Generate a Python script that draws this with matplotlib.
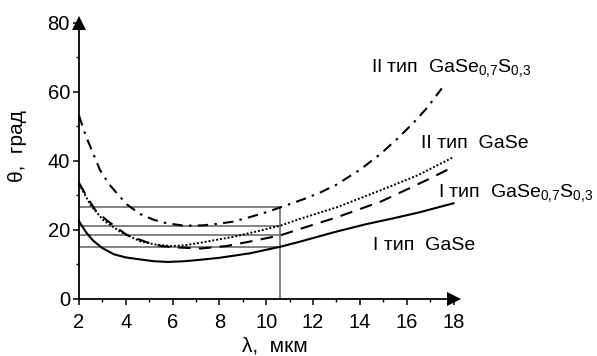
import matplotlib
matplotlib.use("Agg")
import matplotlib.pyplot as plt
from matplotlib.ticker import MultipleLocator

plt.rcParams['font.family'] = ['Liberation Sans', 'DejaVu Sans']
plt.rcParams['mathtext.fontset'] = 'custom'
plt.rcParams['mathtext.rm'] = 'Liberation Sans'
plt.rcParams['mathtext.it'] = 'Liberation Sans'
plt.rcParams['mathtext.bf'] = 'Liberation Sans:bold'

# I тип GaSe (solid)
x_I_GaSe = [2.0, 2.3, 2.6, 3.0, 3.5, 4.0, 4.75, 5.2, 5.8, 6.5, 7.3, 8.0, 9.3, 10.6, 11.4, 13.0, 14.3, 15.4, 16.5, 18.0]
y_I_GaSe = [22.4, 19.2, 16.8, 14.6, 12.8, 11.9, 11.2, 10.8, 10.6, 10.8, 11.3, 11.8, 13.1, 15.0, 16.4, 19.4, 21.6, 23.2, 24.9, 27.6]

# I тип GaSe0.7S0.3 (dashed)
x_I_GaSeS = [2.0, 2.4, 2.7, 3.18, 4.04, 4.9, 5.5, 6.17, 7.2, 8.3, 9.3, 10.6, 11.6, 13.0, 14.9, 16.1, 17.0, 18.0]
y_I_GaSeS = [33.5, 28.8, 25.6, 22.7, 18.4, 16.3, 15.2, 14.8, 14.5, 15.2, 16.5, 18.3, 20.5, 23.5, 28.1, 31.9, 34.8, 38.2]

# II тип GaSe (dotted)
x_II_GaSe = [2.0, 2.5, 3.04, 3.75, 4.6, 5.3, 5.9, 6.5, 7.3, 8.6, 9.5, 10.6, 11.4, 13.0, 14.9, 16.5, 18.0]
y_II_GaSe = [33.2, 27.0, 22.7, 19.4, 16.6, 15.6, 15.2, 15.4, 16.3, 17.9, 19.3, 21.1, 23.0, 26.4, 31.4, 35.8, 41.0]

# II тип GaSe0.7S0.3 (dash-dot)
x_II_GaSeS = [2.0, 2.3, 2.6, 2.9, 3.3, 3.75, 4.04, 4.6, 5.2, 5.75, 6.5, 7.3, 8.0, 8.6, 9.3, 10.0, 10.6,
              11.6, 12.3, 13.0, 14.0, 14.9, 15.6, 16.3, 16.9, 17.5]
y_II_GaSeS = [53.0, 47.0, 42.1, 37.2, 33.0, 29.5, 27.3, 24.5, 22.8, 21.8, 21.1, 21.2, 21.7, 22.3, 23.6, 25.0, 26.4,
              28.8, 30.7, 33.0, 37.3, 42.0, 46.3, 51.0, 55.5, 60.9]

# guide lines at lambda = 10.6 um
lam_guide = 10.6
theta_guides = [26.4, 21.1, 18.3, 15.0]

x_ticks = [2, 4, 6, 8, 10, 12, 14, 16, 18]
y_ticks = [0, 20, 40, 60, 80]

fig = plt.figure(figsize=(5.97, 3.56), dpi=100)
ax = fig.add_axes([79/597, 1 - 298.5/356, (453.5 - 79)/597, (298.5 - 22.5)/356])

ax.set_xlim(2, 18)
ax.set_ylim(0, 80)

gcol = '#606060'
for t in theta_guides:
    ax.plot([2, lam_guide], [t, t], color=gcol, lw=1.1, zorder=1)
ax.plot([lam_guide, lam_guide], [0, max(theta_guides)], color=gcol, lw=1.1, zorder=1)

ax.plot(x_I_GaSe, y_I_GaSe, color='k', lw=1.5, ls='-', clip_on=False)
ax.plot(x_I_GaSeS, y_I_GaSeS, color='k', lw=1.5, ls=(0, (6, 4)), clip_on=False)
ax.plot(x_II_GaSe, y_II_GaSe, color='k', lw=1.4, ls=(0, (1, 1)), clip_on=False)
ax.plot(x_II_GaSeS, y_II_GaSeS, color='k', lw=1.5, ls=(0, (5, 3, 1.2, 3)), clip_on=False)

for s in ['top', 'right']:
    ax.spines[s].set_visible(False)
for s in ['left', 'bottom']:
    ax.spines[s].set_linewidth(1.3)

ax.set_xticks(x_ticks)
ax.set_yticks(y_ticks)
ax.xaxis.set_minor_locator(MultipleLocator(1))
ax.yaxis.set_minor_locator(MultipleLocator(10))
ax.tick_params(axis='both', which='major', direction='out', length=4.5, width=1.1, labelsize=14.5)
ax.tick_params(axis='both', which='minor', direction='out', length=2.5, width=1.0)
ax.tick_params(axis='x', which='major', pad=6)
ax.tick_params(axis='y', which='major', pad=2)

# axis arrows
ax.plot(1, 0, marker='>', color='k', markersize=10, transform=ax.transAxes, clip_on=False,
        markeredgewidth=0)
ax.plot(0, 1, marker='^', color='k', markersize=10, transform=ax.transAxes, clip_on=False,
        markeredgewidth=0)

fs = 14
ax.text(14.49, 65.7, r'II тип  GaSe$_{0{,}7}$S$_{0{,}3}$', fontsize=fs, ha='left', va='baseline', clip_on=False)
ax.text(16.63, 43.5, 'II тип  GaSe', fontsize=fs, ha='left', va='baseline', clip_on=False)
ax.text(17.32, 29.5, r'I тип  GaSe$_{0{,}7}$S$_{0{,}3}$', fontsize=fs, ha='left', va='baseline', clip_on=False)
ax.text(14.55, 14.1, 'I тип  GaSe', fontsize=fs, ha='left', va='baseline', clip_on=False)

fig.text(241.7/597, 1 - 352/356, 'λ,  мкм', fontsize=15, ha='left', va='baseline')
fig.text(17.5/597, 1 - 146/356, 'θ,  град', fontsize=15, ha='center', va='center', rotation=90)

fig.savefig('out.png', dpi=100)
